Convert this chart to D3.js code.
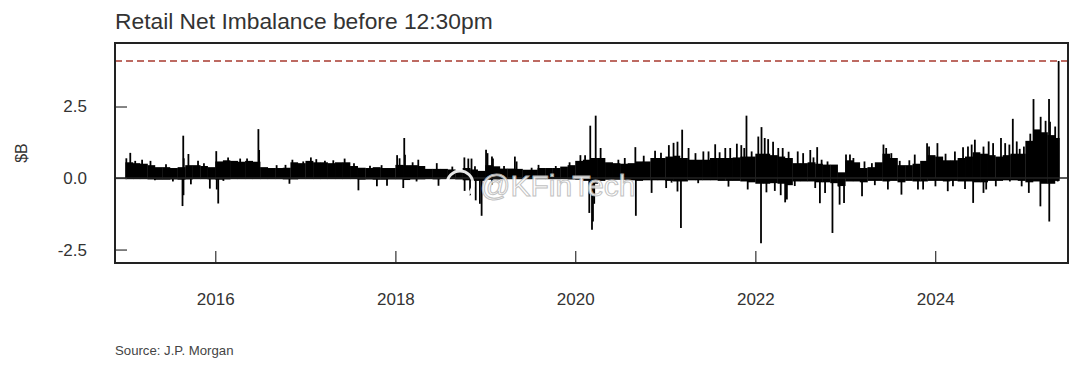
<!DOCTYPE html>
<html>
<head>
<meta charset="utf-8">
<script src="https://cdn.jsdelivr.net/npm/d3@7"></script>
<style>
  body { margin: 0; background: #fff; }
  text { font-family: Arial, "Liberation Sans", sans-serif; }
</style>
</head>
<body>
<div id="chart"></div>
<script>
// monthly dense level of the daily bars, Jan 2015 .. May 2025 ($B)
const monthTop = [
  0.55, 0.52, 0.50, 0.45, 0.38, 0.38, 0.35, 0.38, 0.45, 0.45, 0.42, 0.38, // 2015
  0.58, 0.62, 0.60, 0.57, 0.60, 0.57, 0.38, 0.35, 0.35, 0.36, 0.55, 0.52, // 2016
  0.60, 0.55, 0.55, 0.52, 0.55, 0.55, 0.42, 0.36, 0.35, 0.38, 0.35, 0.35, // 2017
  0.46, 0.45, 0.45, 0.42, 0.32, 0.32, 0.32, 0.30, 0.27, 0.35, 0.30, 0.25, // 2018
  0.45, 0.41, 0.33, 0.33, 0.32, 0.29, 0.29, 0.35, 0.35, 0.35, 0.40, 0.45, // 2019
  0.60, 0.64, 0.70, 0.70, 0.55, 0.52, 0.50, 0.52, 0.58, 0.58, 0.70, 0.70, // 2020
  0.75, 0.78, 0.70, 0.64, 0.64, 0.64, 0.70, 0.70, 0.70, 0.72, 0.75, 0.75, // 2021
  0.85, 0.85, 0.80, 0.75, 0.70, 0.52, 0.52, 0.55, 0.50, 0.47, 0.47, 0.20, // 2022
  0.62, 0.55, 0.35, 0.38, 0.55, 0.85, 0.70, 0.45, 0.45, 0.50, 0.60, 0.80, // 2023
  0.75, 0.62, 0.62, 0.70, 0.75, 0.90, 0.85, 0.80, 0.75, 0.80, 0.85, 0.85, // 2024
  1.30, 1.70, 1.60, 1.50, 1.40                                            // 2025
];
const monthBottom = [
  -0.04, -0.04, -0.04, -0.05, -0.06, -0.06, -0.05, -0.06, -0.05, -0.04, -0.04, -0.05,
  -0.06, -0.05, -0.04, -0.04, -0.04, -0.04, -0.04, -0.04, -0.04, -0.05, -0.05, -0.04,
  -0.04, -0.04, -0.04, -0.04, -0.04, -0.04, -0.04, -0.06, -0.05, -0.06, -0.06, -0.05,
  -0.05, -0.07, -0.05, -0.05, -0.04, -0.05, -0.04, -0.04, -0.05, -0.08, -0.10, -0.10,
  -0.06, -0.05, -0.04, -0.04, -0.04, -0.04, -0.04, -0.04, -0.04, -0.04, -0.04, -0.05,
  -0.06, -0.10, -0.20, -0.10, -0.06, -0.06, -0.06, -0.08, -0.10, -0.08, -0.08, -0.08,
  -0.10, -0.12, -0.12, -0.08, -0.08, -0.08, -0.08, -0.10, -0.10, -0.10, -0.12, -0.15,
  -0.20, -0.20, -0.18, -0.20, -0.25, -0.12, -0.12, -0.12, -0.15, -0.15, -0.18, -0.28,
  -0.12, -0.12, -0.15, -0.10, -0.10, -0.12, -0.10, -0.15, -0.10, -0.12, -0.12, -0.10,
  -0.10, -0.12, -0.10, -0.12, -0.12, -0.15, -0.15, -0.10, -0.10, -0.08, -0.08, -0.10,
  -0.15, -0.12, -0.20, -0.20, -0.10
];
const lastDay = "2025-05-19";

// single days that stick out of the dense band
const spikeDates = [
  "2015-01-05","2015-01-21","2015-02-10","2015-03-10","2015-04-13","2015-08-24","2015-08-26",
  "2015-09-14","2015-10-23","2016-01-05","2016-05-09","2016-06-24","2016-06-27","2016-10-12",
  "2016-11-09","2016-12-23","2017-01-23","2017-03-21","2017-06-09","2017-07-17","2017-09-20",
  "2018-01-08","2018-01-18","2018-02-06","2018-02-09","2018-04-04","2018-06-18","2018-10-08",
  "2018-10-24","2018-11-06","2018-11-20","2019-01-04","2019-01-10","2019-01-28","2019-02-01",
  "2019-05-01","2019-05-08","2019-08-05","2020-01-22","2020-02-10","2020-03-02","2020-03-24",
  "2020-04-13","2020-06-24","2020-09-01","2020-10-05","2020-11-20","2021-01-15","2021-02-03",
  "2021-02-19","2021-03-10","2021-04-05","2021-05-03","2021-06-04","2021-06-25","2021-07-22",
  "2021-09-01","2021-09-21","2021-10-18","2021-11-05","2021-11-17","2021-11-26","2021-12-17",
  "2022-01-13","2022-01-26","2022-02-08","2022-02-22","2022-03-14","2022-04-04","2022-04-22",
  "2022-06-22","2022-07-14","2022-08-12","2022-09-09","2022-09-27","2022-10-21","2023-01-04",
  "2023-01-20","2023-02-03","2023-04-19","2023-06-05","2023-06-16","2023-07-07","2023-08-10",
  "2023-10-10","2023-11-29","2023-12-07","2024-01-10","2024-03-21","2024-04-23","2024-05-13",
  "2024-05-28","2024-06-10","2024-07-15","2024-08-05","2024-08-23","2024-09-24","2024-10-11",
  "2024-10-28","2024-11-11","2024-11-27","2024-12-26","2025-02-03","2025-03-04","2025-03-24",
  "2025-04-07","2025-04-11","2025-05-02","2025-05-16",
  // smaller bumps on top of the band
  "2015-06-15","2015-11-16","2016-02-22","2016-04-11","2016-09-06","2017-02-14","2017-04-24",
  "2017-11-06","2018-03-12","2018-08-20","2019-03-18","2019-07-08","2019-10-14","2019-12-09",
  "2020-07-20","2020-12-14","2021-08-09","2022-05-16","2022-08-25","2023-03-20","2023-09-18",
  "2024-02-12","2024-12-09","2025-01-21",
  // negative days
  "2015-05-01","2015-07-13","2015-08-21","2015-08-25","2015-09-24","2015-12-10","2016-01-07",
  "2016-01-13","2016-02-03","2016-10-28","2017-08-04","2017-10-18","2017-11-28","2018-02-02",
  "2018-03-28","2018-06-25","2018-10-09","2018-10-31","2018-11-23","2018-12-10","2018-12-17",
  "2019-01-28","2020-02-27","2020-03-09","2020-03-13","2020-03-18","2020-09-03","2020-11-06",
  "2021-01-04","2021-01-26","2021-02-19","2021-03-05","2021-05-14","2021-09-14","2021-12-01",
  "2022-01-24","2022-02-15","2022-03-21","2022-04-14","2022-05-02","2022-05-09","2022-06-10",
  "2022-09-01","2022-09-20","2022-10-11","2022-11-10","2022-12-05","2022-12-09","2022-12-27",
  "2023-03-10","2023-05-01","2023-06-23","2023-08-17","2023-10-23","2023-11-13","2024-01-02",
  "2024-02-21","2024-03-13","2024-05-01","2024-06-03","2024-07-15","2024-07-26","2024-09-03",
  "2024-10-30","2024-12-17","2025-01-15","2025-03-03","2025-04-08","2025-05-12"
];
const spikeValues = [
  0.69, 0.88, 0.60, 0.64, 0.60, 1.48, 0.69,
  0.84, 0.60, 0.94, 0.68, 1.71, 0.98, 0.46,
  0.64, 0.58, 0.72, 0.60, 0.68, 0.52, 0.43,
  0.80, 0.69, 1.40, 0.81, 0.64, 0.52, 0.72,
  0.68, 0.68, 0.41, 0.99, 0.87, 0.75, 0.68,
  0.75, 0.58, 0.46, 0.80, 0.80, 1.83, 2.18,
  1.05, 0.64, 1.08, 0.78, 0.95, 1.15, 1.23,
  1.27, 1.69, 1.05, 0.87, 0.93, 0.93, 1.18,
  1.05, 1.05, 1.20, 1.15, 1.05, 2.18, 0.93,
  1.45, 1.78, 1.40, 1.36, 1.27, 1.05, 1.05,
  0.93, 0.87, 0.98, 1.08, 0.64, 0.58, 0.82,
  0.82, 0.70, 0.52, 1.17, 1.05, 0.87, 0.60,
  0.82, 1.22, 1.10, 1.22, 0.93, 1.08, 1.10,
  1.17, 1.34, 1.10, 1.28, 1.22, 1.40, 1.22,
  1.17, 2.07, 1.28, 1.10, 2.76, 2.14, 2.00,
  2.76, 1.97, 1.80, 4.09,
  0.48, 0.52, 0.72, 0.68, 0.45, 0.66, 0.62,
  0.45, 0.55, 0.40, 0.42, 0.36, 0.42, 0.55,
  0.70, 0.88, 0.90, 0.92, 0.72, 0.58, 0.62,
  0.85, 1.02, 1.55,
  -0.08, -0.12, -0.98, -0.60, -0.22, -0.37, -0.40,
  -0.89, -0.10, -0.20, -0.43, -0.29, -0.27, -0.35,
  -0.12, -0.27, -0.45, -0.60, -0.78, -0.90, -1.32,
  -0.23, -1.22, -1.81, -1.52, -0.90, -1.32, -0.52,
  -0.35, -0.16, -0.47, -1.75, -0.18, -0.30, -0.40,
  -2.28, -0.50, -0.45, -0.60, -0.85, -0.75, -0.28,
  -0.35, -0.88, -0.52, -1.92, -0.30, -0.93, -0.87,
  -0.64, -0.25, -0.40, -0.58, -0.40, -0.40, -0.29,
  -0.46, -0.29, -0.38, -0.87, -0.52, -0.40, -0.29,
  -0.12, -0.29, -0.52, -0.99, -1.52, -0.12
];
const refLine = 4.09;
const yTicks = [-2.5, 0, 2.5];
const xTickYears = [2016, 2018, 2020, 2022, 2024];

const W = 1080, H = 368;
const box = {left: 115, right: 1068, top: 43, bottom: 263};
const parse = d3.timeParse("%Y-%m-%d");

const svg = d3.select("#chart").append("svg")
    .attr("width", W)
    .attr("height", H);

const x = d3.scaleTime()
  .domain([new Date(2014, 10, 20), new Date(2025, 5, 23)])
  .range([box.left, box.right]);
const y = d3.scaleLinear()
  .domain([-2.97, 4.72])
  .range([box.bottom, box.top]);

// title
svg.append("text")
  .attr("x", box.left)
  .attr("y", 29)
  .style("font-size", "22.8px")
  .style("fill", "#333")
  .text("Retail Net Imbalance before 12:30pm");

const plot = svg.append("g");

// monthly dense band
const months = d3.timeMonth.range(new Date(2015, 0, 1), new Date(2025, 5, 1));
const endDay = parse(lastDay);
plot.selectAll("rect.band")
  .data(months)
  .enter()
  .append("rect")
    .attr("class", "band")
    .attr("x", function(d) { return x(d) })
    .attr("width", function(d, i) {
      const next = i === months.length - 1 ? endDay : d3.timeMonth.offset(d, 1);
      return x(next) - x(d) + 0.3;
    })
    .attr("y", function(d, i) { return y(monthTop[i]) })
    .attr("height", function(d, i) { return y(monthBottom[i]) - y(monthTop[i]) })
    .attr("fill", "#000");

// spikes
plot.selectAll("line.spike")
  .data(spikeDates)
  .enter()
  .append("line")
    .attr("class", "spike")
    .attr("x1", function(d) { return x(parse(d)) })
    .attr("x2", function(d) { return x(parse(d)) })
    .attr("y1", y(0))
    .attr("y2", function(d, i) { return y(spikeValues[i]) })
    .attr("stroke", "#000")
    .attr("stroke-width", 1.8);

// zero line
svg.append("line")
  .attr("x1", box.left).attr("x2", box.right)
  .attr("y1", y(0)).attr("y2", y(0))
  .attr("stroke", "#222")
  .attr("stroke-width", 1.5);

// dashed red reference line
svg.append("line")
  .attr("x1", box.left).attr("x2", box.right)
  .attr("y1", y(refLine)).attr("y2", y(refLine))
  .attr("stroke", "#a83a2f")
  .attr("stroke-width", 1.4)
  .attr("stroke-dasharray", "7,4");

// axes, ticks pointing inward like the original
const yAxis = svg.append("g")
  .attr("transform", `translate(${box.left},0)`)
  .call(d3.axisLeft(y).tickValues(yTicks).tickSize(-12).tickPadding(28)
    .tickFormat(function(d) { return d.toFixed(1) }));
const xAxis = svg.append("g")
  .attr("transform", `translate(0,${box.bottom})`)
  .call(d3.axisBottom(x).tickValues(xTickYears.map(function(d) { return new Date(d, 0, 1) }))
    .tickSize(-12).tickPadding(30).tickFormat(d3.timeFormat("%Y")));
[yAxis, xAxis].forEach(function(a) {
  a.select(".domain").remove();
  a.selectAll(".tick line").attr("stroke", "#333").attr("stroke-width", 1.2);
  a.selectAll(".tick text")
    .style("font-size", "17px")
    .style("font-family", "Arial, 'Liberation Sans', sans-serif")
    .attr("fill", "#333");
});

// frame
svg.append("rect")
  .attr("x", box.left).attr("y", box.top)
  .attr("width", box.right - box.left)
  .attr("height", box.bottom - box.top)
  .attr("fill", "none")
  .attr("stroke", "#222")
  .attr("stroke-width", 2);

// y label
svg.append("text")
  .attr("transform", "translate(27,153) rotate(-90)")
  .style("text-anchor", "middle")
  .style("font-size", "16px")
  .style("fill", "#333")
  .text("$B");

// source note
svg.append("text")
  .attr("x", box.left)
  .attr("y", 355)
  .style("font-size", "13.2px")
  .style("fill", "#444")
  .text("Source: J.P. Morgan");

// reposting watermark that sits over the plot
svg.append("circle")
  .attr("cx", 460).attr("cy", 184).attr("r", 13)
  .attr("fill", "none")
  .attr("stroke", "#fff")
  .attr("stroke-width", 3)
  .style("opacity", 0.9);
svg.append("text")
  .attr("x", 480)
  .attr("y", 196)
  .style("font-size", "30px")
  .style("fill", "#fff")
  .style("stroke", "#bbb")
  .style("stroke-width", 1)
  .style("opacity", 0.9)
  .text("@KFinTech");
</script>
</body>
</html>
